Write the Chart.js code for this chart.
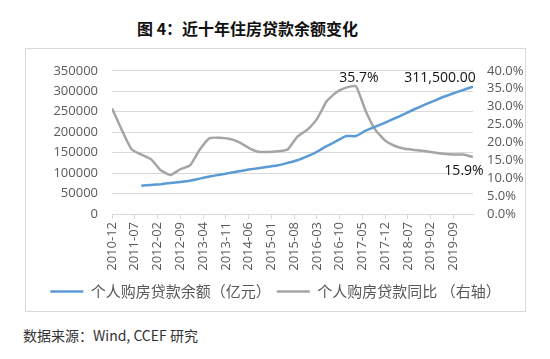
<!DOCTYPE html>
<html>
<head>
<meta charset="utf-8">
<script src="https://cdn.jsdelivr.net/npm/chart.js@4"></script>
<style>
  body { margin: 0; background: #fff; width: 550px; height: 359px; position: relative; overflow: hidden; }
  #title { position: absolute; left: 137px; top: 18px; font: bold 16px "Noto Sans CJK SC"; line-height: 20px; color: #111; white-space: nowrap; }
  #box { position: absolute; left: 25px; top: 48px; width: 501px; height: 264px; border: 1px solid #d9d9d9; box-sizing: border-box; }
  #source { position: absolute; left: 23px; top: 325px; font: 14px "Noto Sans CJK SC"; line-height: 20px; color: #333; white-space: nowrap; }
</style>
</head>
<body>
<div id="title">图 4：近十年住房贷款余额变化</div>
<div id="box"><canvas id="chart" width="499" height="262"></canvas></div>
<div id="source">数据来源：Wind, CCEF 研究</div>
<script>
'use strict';

// tick labels on the month axis
let xTickLabels = ['2010-12', '2011-07', '2012-02', '2012-09', '2013-04', '2013-11', '2014-06', '2015-01',
    '2015-08', '2016-03', '2016-10', '2017-05', '2017-12', '2018-07', '2019-02', '2019-09'];
let firstMonth = '2010-12';
let lastMonth = '2020-03';

// 个人购房贷款余额 (亿元)
let balanceMonths = ['2011-09', '2011-12', '2012-03', '2012-06', '2012-09', '2012-12', '2013-03', '2013-06',
    '2013-09', '2013-12', '2014-03', '2014-06', '2014-09', '2014-12', '2015-03', '2015-06', '2015-09',
    '2015-12', '2016-03', '2016-06', '2016-09', '2016-12', '2017-03', '2017-06', '2017-09', '2017-12',
    '2018-03', '2018-06', '2018-09', '2018-12', '2019-03', '2019-06', '2019-09', '2019-12', '2020-03'];
let balanceValues = [69000, 71000, 73000, 76000, 78500, 81500, 86500, 91500,
    96000, 100000, 104500, 108500, 112000, 115500, 119000, 125000, 131500,
    141000, 152000, 166000, 178000, 190500, 190500, 203500, 213500, 223500,
    234000, 245000, 256000, 266500, 276500, 286500, 295000, 303000, 311500];

// 个人购房贷款同比 (%)
let growthMonths = ['2010-12', '2011-06', '2011-12', '2012-03', '2012-06', '2012-09', '2012-12', '2013-03',
    '2013-06', '2013-09', '2013-12', '2014-03', '2014-06', '2014-09', '2014-12', '2015-03', '2015-06',
    '2015-09', '2015-12', '2016-03', '2016-06', '2016-09', '2016-12', '2017-03', '2017-06', '2017-09',
    '2017-12', '2018-03', '2018-06', '2018-09', '2018-12', '2019-03', '2019-06', '2019-09', '2019-12', '2020-03'];
let growthValues = [29.5, 18.1, 15.3, 12.2, 10.9, 12.5, 13.6, 18.0,
    21.2, 21.3, 21.0, 20.1, 18.5, 17.4, 17.3, 17.5, 18.0,
    21.6, 23.5, 26.5, 31.5, 34.0, 35.3, 35.7, 28.8, 23.5,
    20.5, 19.0, 18.2, 17.9, 17.6, 17.2, 16.8, 16.6, 16.6, 15.9];

function monthIndex(label) {
    let parts = label.split('-');
    let start = firstMonth.split('-');
    return (Number(parts[0]) - Number(start[0])) * 12 + Number(parts[1]) - Number(start[1]);
}

function monthLabel(index) {
    let start = firstMonth.split('-');
    let total = Number(start[0]) * 12 + Number(start[1]) - 1 + index;
    let m = total % 12 + 1;
    return Math.floor(total / 12) + '-' + (m < 10 ? '0' + m : m);
}

function toPoints(months, values) {
    return months.map((m, i) => ({ x: monthIndex(m), y: values[i] }));
}

const tickFont = { family: 'Open Sans', size: 13 };
const tickColor = '#595959';
const gridColor = '#d9d9d9';

// data labels next to chosen points
const valueLabels = {
    id: 'valueLabels',
    afterDatasetsDraw(chart) {
        const ctx = chart.ctx;
        const balanceMeta = chart.getDatasetMeta(0);
        const growthMeta = chart.getDatasetMeta(1);
        const peak = growthValues.indexOf(Math.max(...growthValues));
        const lastB = balanceMeta.data[balanceValues.length - 1];
        const lastG = growthMeta.data[growthValues.length - 1];
        const peakG = growthMeta.data[peak];
        ctx.save();
        ctx.font = '14px "Open Sans"';
        ctx.fillStyle = '#111';
        ctx.textAlign = 'center';
        ctx.textBaseline = 'middle';
        ctx.fillText(growthValues[peak].toFixed(1) + '%', peakG.x + 3, peakG.y - 8);
        ctx.fillText(balanceValues[balanceValues.length - 1].toLocaleString('en-US', { minimumFractionDigits: 2 }), lastB.x - 33, lastB.y - 9);
        ctx.fillText(growthValues[growthValues.length - 1].toFixed(1) + '%', lastG.x - 9, lastG.y + 14);
        ctx.restore();
    }
};

let chart = new Chart(document.getElementById('chart').getContext('2d'), {
    type: 'line',
    data: {
        datasets: [{
            label: '个人购房贷款余额（亿元）',
            data: toPoints(balanceMonths, balanceValues),
            borderColor: '#5B9BD5',
            backgroundColor: '#5B9BD5',
            borderWidth: 2.5,
            pointRadius: 0,
            tension: 0.15,
            yAxisID: 'y'
        }, {
            label: '个人购房贷款同比 （右轴）',
            data: toPoints(growthMonths, growthValues),
            borderColor: '#A5A5A5',
            backgroundColor: '#A5A5A5',
            borderWidth: 2.5,
            pointRadius: 0,
            tension: 0.15,
            yAxisID: 'y1'
        }]
    },
    options: {
        responsive: false,
        animation: false,
        layout: { padding: { top: 20, bottom: 2, left: 0, right: 0 } },
        plugins: {
            tooltip: { enabled: false },
            legend: {
                position: 'bottom',
                labels: {
                    usePointStyle: true,
                    pointStyle: 'line',
                    pointStyleWidth: 33,
                    padding: 6,
                    color: '#595959',
                    font: { family: 'Noto Sans CJK SC', size: 15 }
                }
            }
        },
        scales: {
            x: {
                type: 'linear',
                min: monthIndex(firstMonth),
                max: monthIndex(lastMonth),
                afterBuildTicks: scale => {
                    scale.ticks = xTickLabels.map(l => ({ value: monthIndex(l) }));
                },
                afterFit: scale => { scale.height = 64; },
                ticks: {
                    autoSkip: false,
                    minRotation: 90,
                    maxRotation: 90,
                    padding: 3,
                    color: tickColor,
                    font: tickFont,
                    callback: v => monthLabel(v)
                },
                grid: { drawOnChartArea: false, drawTicks: true, tickLength: 5, color: gridColor },
                border: { display: true, color: gridColor }
            },
            y: {
                position: 'left',
                min: 0,
                max: 350000,
                afterFit: scale => { scale.width = 86; },
                ticks: { stepSize: 50000, autoSkip: false, padding: 14, color: tickColor, font: tickFont, callback: v => String(v) },
                grid: { color: gridColor, drawTicks: false },
                border: { display: false }
            },
            y1: {
                position: 'right',
                min: 0,
                max: 40,
                afterFit: scale => { scale.width = 52; },
                ticks: { stepSize: 5, autoSkip: false, padding: 14, color: tickColor, font: tickFont, callback: v => v.toFixed(1) + '%' },
                grid: { display: false, drawTicks: false },
                border: { display: false }
            }
        }
    },
    plugins: [valueLabels]
});
</script>
</body>
</html>
